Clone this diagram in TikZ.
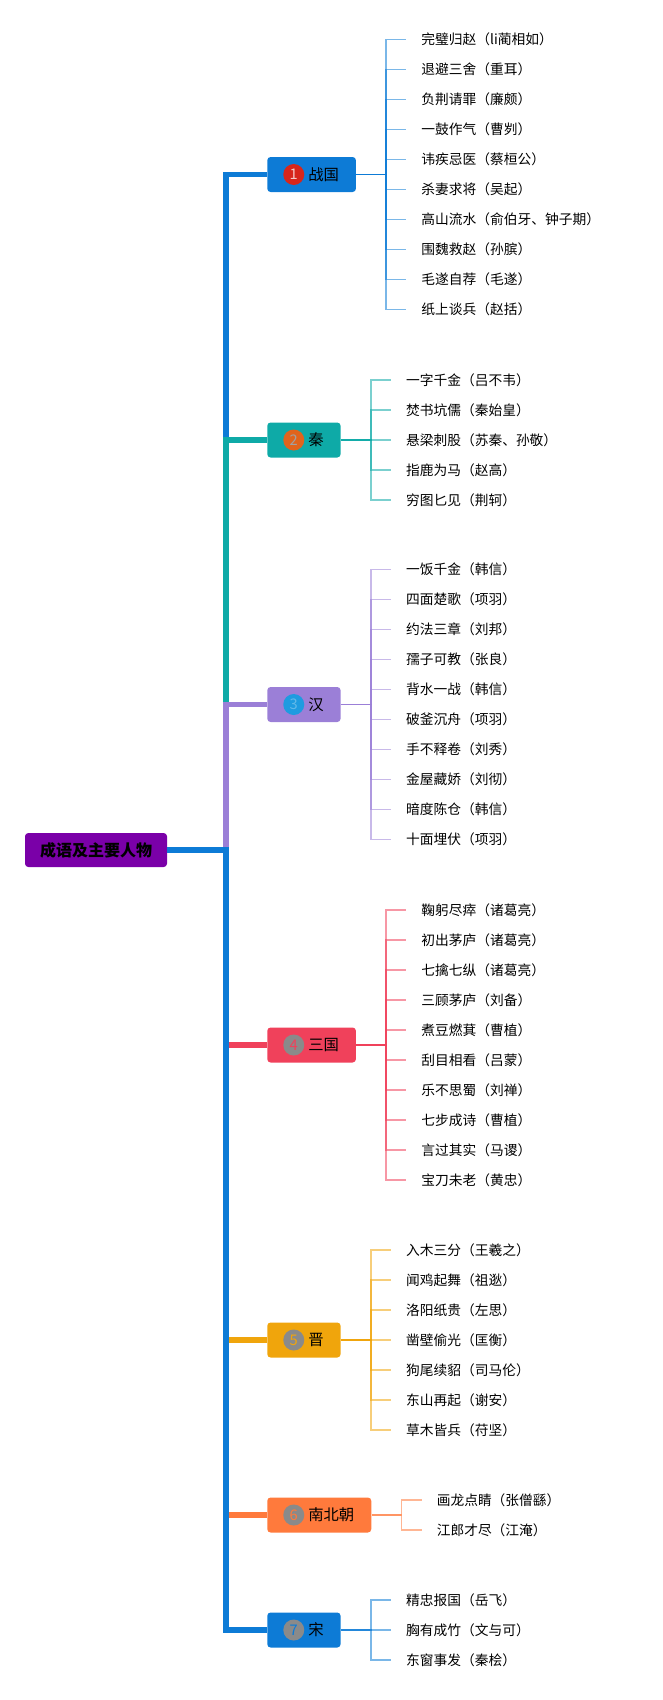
\documentclass[tikz,border=0pt]{standalone}
\usepackage{fontspec}
\newfontfamily\cjk{Noto Sans CJK SC}
\usetikzlibrary{positioning}

\definecolor{rootpurple}{HTML}{7A00A8}
\definecolor{zgblue}{HTML}{0D7BD6}
\definecolor{qinteal}{HTML}{0EAAA7}
\definecolor{hanlav}{HTML}{9B7FD7}
\definecolor{sgred}{HTML}{F0415B}
\definecolor{jinamber}{HTML}{F0A50C}
\definecolor{nbcorange}{HTML}{FF7A3C}
\definecolor{songblue}{HTML}{0D7BD6}
\definecolor{numred}{HTML}{D7261B}
\definecolor{numorange}{HTML}{E0641C}
\definecolor{numblue}{HTML}{1E9BE0}
\definecolor{numgrey}{HTML}{8A8A8A}

\begin{document}
\begin{tikzpicture}[x=0.75pt,y=-0.75pt,
  root node/.style={rectangle,rounded corners=2.5pt,fill=rootpurple,minimum width=106.5pt,
    minimum height=25.5pt,font=\cjk\bfseries\fontsize{12}{14}\selectfont},
  branch node/.style={rectangle,rounded corners=2.5pt,anchor=west,inner xsep=12.75pt,
    minimum height=26.25pt,font=\cjk\fontsize{11.5}{13}\selectfont},
  num node/.style={circle,inner sep=0pt,minimum size=15.75pt,font=\cjk\fontsize{11}{13}\selectfont},
  leaf node/.style={anchor=west,inner xsep=11.25pt,inner ysep=1pt,font=\cjk\fontsize{10.3}{12}\selectfont},
  trunk/.style={line width=4pt},
  twig/.style={line width=1.4pt,draw opacity=0.55}]

  \useasboundingbox (0,0) rectangle (663,1700);

  \node[root node] (root) at (96,850) {成语及主要人物};
  \coordinate (hub) at (226,850);

  % branch boxes
  \node[branch node,fill=zgblue] (b1) at (267,174.5) {\kern18pt战国};
  \node[branch node,fill=qinteal] (b2) at (267,440) {\kern18pt秦};
  \node[branch node,fill=hanlav] (b3) at (267,704.5) {\kern18pt汉};
  \node[branch node,fill=sgred] (b4) at (267,1045) {\kern18pt三国};
  \node[branch node,fill=jinamber] (b5) at (267,1340) {\kern18pt晋};
  \node[branch node,fill=nbcorange] (b6) at (267,1515) {\kern18pt南北朝};
  \node[branch node,fill=songblue] (b7) at (267,1630) {\kern18pt宋};

  \node[num node,fill=numred,text=white!75!numred] (n1) [right=12pt of b1.west] {1};
  \node[num node,fill=numorange,text=numgrey!80] (n2) [right=12pt of b2.west] {2};
  \node[num node,fill=numblue,text=numblue!70!white] (n3) [right=12pt of b3.west] {3};
  \node[num node,fill=numgrey,text=sgred] (n4) [right=12pt of b4.west] {4};
  \node[num node,fill=numgrey,text=jinamber] (n5) [right=12pt of b5.west] {5};
  \node[num node,fill=numgrey,text=nbcorange] (n6) [right=12pt of b6.west] {6};
  \node[num node,fill=numgrey,text=songblue] (n7) [right=12pt of b7.west] {7};

  % main branches
  \draw[trunk,zgblue] (root.east) -- (hub) |- (b1.west);
  \draw[trunk,qinteal] (root.east) -- (hub) |- (b2.west);
  \draw[trunk,hanlav] (root.east) -- (hub) |- (b3.west);
  \draw[trunk,sgred,line width=4.3pt] (root.east) -- (hub) |- (b4.west);
  \draw[trunk,jinamber,line width=4.2pt] (root.east) -- (hub) |- (b5.west);
  \draw[trunk,nbcorange,line width=3.9pt] (root.east) -- (hub) |- (b6.west);
  \draw[trunk,songblue] (root.east) -- (hub) |- (b7.west);

  % 战国
  \foreach \t [count=\i] in {完璧归赵（li蔺相如）,退避三舍（重耳）,负荆请罪（廉颇）,一鼓作气（曹刿）,
      讳疾忌医（蔡桓公）,杀妻求将（吴起）,高山流水（俞伯牙、钟子期）,围魏救赵（孙膑）,
      毛遂自荐（毛遂）,纸上谈兵（赵括）}{
    \node[leaf node] (b1l\i) at ([xshift=37.5pt,yshift={(5.5-\i)*22.5pt}]b1.east) {\t};
    \draw[twig,zgblue] (b1.east) -- ++(30,0) |- (b1l\i.west);
  }

  % 秦
  \foreach \t [count=\i] in {一字千金（吕不韦）,焚书坑儒（秦始皇）,悬梁刺股（苏秦、孙敬）,
      指鹿为马（赵高）,穷图匕见（荆轲）}{
    \node[leaf node] (b2l\i) at ([xshift=37.5pt,yshift={(3-\i)*22.5pt}]b2.east) {\t};
    \draw[twig,qinteal] (b2.east) -- ++(30,0) |- (b2l\i.west);
  }

  % 汉
  \foreach \t [count=\i] in {一饭千金（韩信）,四面楚歌（项羽）,约法三章（刘邦）,孺子可教（张良）,
      背水一战（韩信）,破釜沉舟（项羽）,手不释卷（刘秀）,金屋藏娇（刘彻）,
      暗度陈仓（韩信）,十面埋伏（项羽）}{
    \node[leaf node] (b3l\i) at ([xshift=37.5pt,yshift={(5.5-\i)*22.5pt}]b3.east) {\t};
    \draw[twig,hanlav] (b3.east) -- ++(30,0) |- (b3l\i.west);
  }

  % 三国
  \foreach \t [count=\i] in {鞠躬尽瘁（诸葛亮）,初出茅庐（诸葛亮）,七擒七纵（诸葛亮）,三顾茅庐（刘备）,
      煮豆燃萁（曹植）,刮目相看（吕蒙）,乐不思蜀（刘禅）,七步成诗（曹植）,
      言过其实（马谡）,宝刀未老（黄忠）}{
    \node[leaf node] (b4l\i) at ([xshift=37.5pt,yshift={(5.5-\i)*22.5pt}]b4.east) {\t};
    \draw[twig,sgred] (b4.east) -- ++(30,0) |- (b4l\i.west);
  }

  % 晋
  \foreach \t [count=\i] in {入木三分（王羲之）,闻鸡起舞（祖逖）,洛阳纸贵（左思）,凿壁偷光（匡衡）,
      狗尾续貂（司马伦）,东山再起（谢安）,草木皆兵（苻坚）}{
    \node[leaf node] (b5l\i) at ([xshift=37.5pt,yshift={(4-\i)*22.5pt}]b5.east) {\t};
    \draw[twig,jinamber] (b5.east) -- ++(30,0) |- (b5l\i.west);
  }

  % 南北朝
  \foreach \t [count=\i] in {画龙点睛（张僧繇）,江郎才尽（江淹）}{
    \node[leaf node] (b6l\i) at ([xshift=37.5pt,yshift={(1.5-\i)*22.5pt}]b6.east) {\t};
    \draw[twig,nbcorange] (b6.east) -- ++(30,0) |- (b6l\i.west);
  }

  % 宋
  \foreach \t [count=\i] in {精忠报国（岳飞）,胸有成竹（文与可）,东窗事发（秦桧）}{
    \node[leaf node] (b7l\i) at ([xshift=37.5pt,yshift={(2-\i)*22.5pt}]b7.east) {\t};
    \draw[twig,songblue] (b7.east) -- ++(30,0) |- (b7l\i.west);
  }
\end{tikzpicture}
\end{document}
